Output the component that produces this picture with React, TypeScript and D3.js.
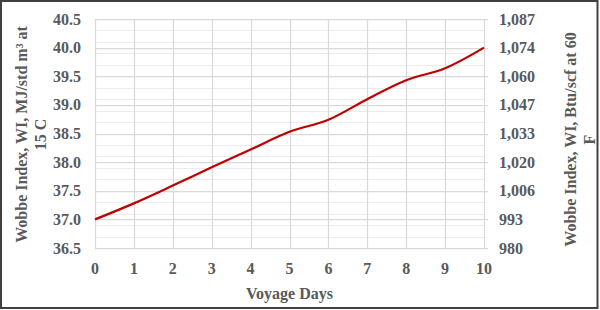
import React from "react";
import * as d3 from "d3";

const days = [0, 1, 2, 3, 4, 5, 6, 7, 8, 9, 10];
const wobbeMJ = [37.0, 37.28, 37.59, 37.91, 38.22, 38.53, 38.74, 39.1, 39.43, 39.64, 40.0];
const leftTicks = [36.5, 37.0, 37.5, 38.0, 38.5, 39.0, 39.5, 40.0, 40.5];
const minorTicks = [36.7, 36.9, 37.1, 37.3, 37.5, 37.7, 37.9, 38.1, 38.3, 38.5, 38.7, 38.9, 39.1, 39.3, 39.5, 39.7, 39.9, 40.1, 40.3];
const rightTickLabels = ["980", "993", "1,006", "1,020", "1,033", "1,047", "1,060", "1,074", "1,087"];
const xTitle = "Voyage Days";
const leftTitle = ["Wobbe Index, WI, MJ/std m\u00B3 at", "15 C"];
const rightTitle = ["Wobbe Index, WI, Btu/scf at 60", "F"];

const W = 600;
const H = 310;
const plot = { left: 95, right: 484, top: 19, bottom: 248 };
const textColor = "#595959";
const font = "'Liberation Serif', 'Times New Roman', serif";

export default function App() {
  const x = d3.scaleLinear().domain([0, 10]).range([plot.left, plot.right]);
  const y = d3.scaleLinear().domain([36.5, 40.5]).range([plot.bottom, plot.top]);
  const line = d3
    .line<number>()
    .x((_, i) => x(days[i]))
    .y((d) => y(d))
    .curve(d3.curveCatmullRom.alpha(0.5));
  const path = line(wobbeMJ) || "";
  const midY = (plot.top + plot.bottom) / 2;

  return (
    <svg
      width={W}
      height={H}
      style={{ position: "fixed", left: 0, top: 0, background: "#fff" }}
      fontFamily={font}
      fontWeight="bold"
    >
      <rect x={0} y={0} width={W} height={H} fill="#fff" />
      {minorTicks.map((t) => (
        <line key={"m" + t} x1={plot.left} x2={plot.right} y1={Math.round(y(t)) + 0.5} y2={Math.round(y(t)) + 0.5} stroke="#ececec" strokeWidth={1} />
      ))}
      {leftTicks.map((t) => (
        <line key={"h" + t} x1={plot.left} x2={plot.right + 4} y1={Math.round(y(t)) + 0.5} y2={Math.round(y(t)) + 0.5} stroke="#d9d9d9" strokeWidth={1.25} />
      ))}
      {days.map((d) => (
        <line key={"v" + d} x1={Math.round(x(d)) + 0.5} x2={Math.round(x(d)) + 0.5} y1={plot.top} y2={plot.bottom} stroke="#d9d9d9" strokeWidth={1.25} />
      ))}
      <path d={path} fill="none" stroke="#c00000" strokeWidth={2.25} />
      {leftTicks.map((t) => (
        <text key={"lt" + t} x={81} y={y(t)} textAnchor="end" dominantBaseline="central" fontSize={16} fill={textColor}>
          {t.toFixed(1)}
        </text>
      ))}
      {leftTicks.map((t, i) => (
        <text key={"rt" + t} x={499} y={y(t)} textAnchor="start" dominantBaseline="central" fontSize={16} fill={textColor}>
          {rightTickLabels[i]}
        </text>
      ))}
      {days.map((d) => (
        <text key={"xt" + d} x={x(d)} y={268} textAnchor="middle" dominantBaseline="central" fontSize={16} fill={textColor}>
          {d}
        </text>
      ))}
      <text x={(plot.left + plot.right) / 2} y={293} textAnchor="middle" dominantBaseline="central" fontSize={16} fill={textColor}>
        {xTitle}
      </text>
      {leftTitle.map((s, i) => (
        <text key={"lT" + i} transform={`translate(${21 + i * 19},${midY + 1}) rotate(-90)`} textAnchor="middle" dominantBaseline="central" fontSize={16} fill={textColor}>
          {s}
        </text>
      ))}
      {rightTitle.map((s, i) => (
        <text key={"rT" + i} transform={`translate(${570 + i * 19},${midY + 6}) rotate(-90)`} textAnchor="middle" dominantBaseline="central" fontSize={16} fill={textColor}>
          {s}
        </text>
      ))}
      <rect x={1} y={1} width={596.5} height={307} fill="none" stroke="#404040" strokeWidth={2} />
    </svg>
  );
}
